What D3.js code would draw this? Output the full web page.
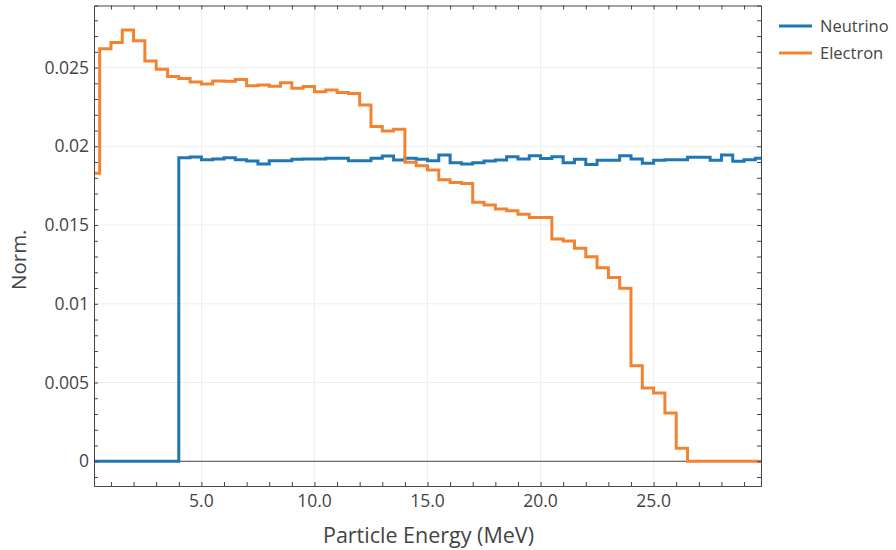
<!DOCTYPE html>
<html><head><meta charset="utf-8">
<script src="https://cdn.jsdelivr.net/npm/d3@7"></script>
<style>body{margin:0;background:#fff;} svg{display:block;font-family:"Open Sans",sans-serif;}</style>
</head><body><svg id="c" width="896" height="550"></svg>
<script>
// bin centers (0.5 MeV bins)
const binCenters = d3.range(60).map(i => 0.25 + 0.5 * i);
const neutrino = [0,0,0,0,0,0,0,0,
  0.01928,0.01932,0.01915,0.0192,0.01928,0.01915,0.01907,0.01888,0.01909,0.01909,
  0.01918,0.0192,0.0192,0.01924,0.01924,0.01909,0.01909,0.01924,0.01939,0.01913,
  0.01924,0.01918,0.01909,0.01945,0.01896,0.01888,0.01896,0.01907,0.01913,0.01934,
  0.0192,0.0194,0.01922,0.01934,0.01895,0.01917,0.01884,0.01911,0.01911,0.0194,
  0.0192,0.01892,0.01912,0.01914,0.01914,0.0193,0.0193,0.01912,0.01945,0.01905,
  0.01915,0.01924];
const electron = [0.01829,0.02619,0.02659,0.02739,0.0267,0.02542,0.0249,0.02443,
  0.0243,0.02409,0.02396,0.02415,0.02413,0.02424,0.02384,0.0239,0.02382,0.02403,
  0.02369,0.0238,0.02347,0.02358,0.02341,0.02335,0.02263,0.02125,0.02097,0.02108,
  0.01899,0.01877,0.0185,0.01788,0.0177,0.01763,0.01644,0.01627,0.01602,0.01591,
  0.01568,0.01548,0.01548,0.01411,0.01398,0.01352,0.01299,0.01229,0.01167,0.01098,
  0.00606,0.00466,0.00434,0.00307,0.00083,0,0,0,0,0,0,0];
const seriesNames = ["Neutrino", "Electron"];
const seriesColors = ["#1f77b4", "#f28330"];
const xTickValues = [5, 10, 15, 20, 25];
const yTickValues = [0, 0.005, 0.01, 0.015, 0.02, 0.025];
const yTickLabels = ["0", "0.005", "0.01", "0.015", "0.02", "0.025"];

const L = 94, R = 761, T = 5.5, B = 486;
const svg = d3.select("#c");
const x = d3.scaleLinear().domain([0.25, 29.75]).range([L, R]);
const y = d3.scaleLinear().domain([-0.00157, 0.02894]).range([B, T]);
const txt = "#444";

// grid
const g = svg.append("g");
g.selectAll(".gx").data(xTickValues).join("line")
  .attr("x1", d => x(d)).attr("x2", d => x(d)).attr("y1", T).attr("y2", B)
  .attr("stroke", "#eee").attr("stroke-width", 1);
g.selectAll(".gy").data(yTickValues.filter(d => d !== 0)).join("line")
  .attr("x1", L).attr("x2", R).attr("y1", d => y(d)).attr("y2", d => y(d))
  .attr("stroke", "#eee").attr("stroke-width", 1);
// zero line
g.append("line").attr("x1", L).attr("x2", R).attr("y1", y(0)).attr("y2", y(0))
  .attr("stroke", "#444").attr("stroke-width", 1);

// clip
svg.append("clipPath").attr("id", "clip").append("rect")
  .attr("x", L).attr("y", T).attr("width", R - L).attr("height", B - T);

const line = d3.line().x((d, i) => x(binCenters[i])).y(d => y(d)).curve(d3.curveStep);
const lines = svg.append("g").attr("clip-path", "url(#clip)");
[neutrino, electron].forEach((s, k) => {
  lines.append("path").datum(s).attr("d", line).attr("fill", "none")
    .attr("stroke", seriesColors[k]).attr("stroke-width", 3).attr("stroke-linejoin", "miter");
});

// frame axes with inward ticks
const tl = 4;
const xMinor = d3.range(1, 30);
const yMinor = d3.range(-1, 29).map(v => v * 0.001);
const axB = d3.axisBottom(x).tickValues(xMinor).tickSize(-tl).tickFormat("");
const axT = d3.axisTop(x).tickValues(xMinor).tickSize(-tl).tickFormat("");
const axL = d3.axisLeft(y).tickValues(yMinor).tickSize(-tl).tickFormat("");
const axR = d3.axisRight(y).tickValues(yMinor).tickSize(-tl).tickFormat("");
[[axB, `translate(0,${B})`], [axT, `translate(0,${T})`], [axL, `translate(${L},0)`], [axR, `translate(${R},0)`]]
  .forEach(([a, t]) => {
    const ag = svg.append("g").attr("transform", t).call(a);
    ag.selectAll("path").attr("stroke", "#444").attr("stroke-width", 1);
    ag.selectAll("line").attr("stroke", "#444").attr("stroke-width", 1);
  });

// tick labels
svg.append("g").selectAll("text").data(xTickValues).join("text")
  .attr("x", d => x(d)).attr("y", 507).attr("text-anchor", "middle")
  .attr("font-size", 17.5).attr("fill", txt).text(d => d3.format(".1f")(d));
svg.append("g").selectAll("text").data(yTickValues).join("text")
  .attr("x", 89).attr("y", d => y(d) + 6).attr("text-anchor", "end")
  .attr("font-size", 17.5).attr("fill", txt).text((d, i) => yTickLabels[i]);

// axis titles
svg.append("text").attr("x", (L + R) / 2 + 1).attr("y", 543).attr("text-anchor", "middle")
  .attr("font-size", 21.5).attr("fill", txt).text("Particle Energy (MeV)");
svg.append("text").attr("transform", `translate(26,${(T + B) / 2 + 14}) rotate(-90)`)
  .attr("text-anchor", "middle").attr("font-size", 20.5).attr("fill", txt).text("Norm.");

// legend
seriesNames.forEach((n, k) => {
  const ly = 26 + k * 27;
  svg.append("line").attr("x1", 779).attr("x2", 812).attr("y1", ly).attr("y2", ly)
    .attr("stroke", seriesColors[k]).attr("stroke-width", 3);
  svg.append("text").attr("x", 820).attr("y", ly + 6).attr("font-size", 16.5)
    .attr("fill", txt).text(n);
});
</script></body></html>
